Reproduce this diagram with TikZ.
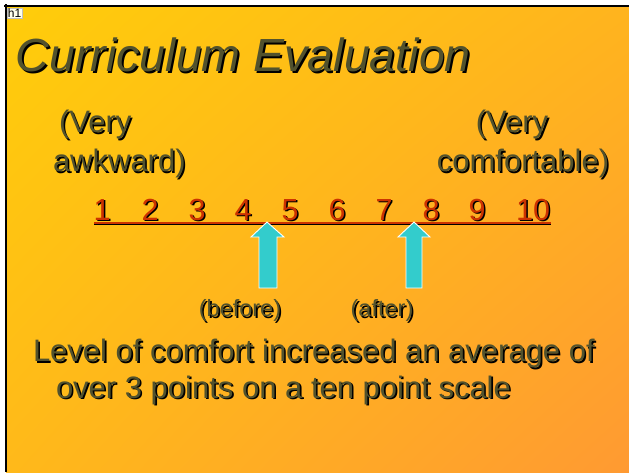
\documentclass[tikz,border=0pt]{standalone}
\usepackage{fontspec}
\setmainfont{Liberation Sans}
\usetikzlibrary{shadings}
\definecolor{bgA}{RGB}{255,205,10}
\definecolor{bgB}{RGB}{255,154,50}
\definecolor{bgM}{RGB}{255,180,30}
\definecolor{olive}{RGB}{82,82,45}
\definecolor{numred}{RGB}{204,51,0}
\definecolor{arrowcyan}{RGB}{51,204,204}
\newcommand\shadowed[1]{\makebox[0pt][l]{\hspace{1.6pt}\raisebox{-1.6pt}{\color{black}#1}}#1}
\begin{document}
\begin{tikzpicture}[x=1pt,y=-1pt,
  txt/.style={inner sep=0pt, outer sep=0pt, text=olive},
  titletxt/.style={txt, anchor=base west, font=\itshape\fontsize{46.5}{50}\selectfont},
  bigtxt/.style={txt, font=\fontsize{31}{36}\selectfont},
  smalltxt/.style={txt, anchor=base, font=\fontsize{23.5}{28}\selectfont},
  numtxt/.style={inner sep=0pt, outer sep=0pt, anchor=base, text=numred, font=\fontsize{30.5}{34}\selectfont},
  uparrow/.style={fill=arrowcyan, draw=white, line width=0.9pt, line join=miter}]
\useasboundingbox (0,0) rectangle (629,472);
\fill[white] (0,0) rectangle (629,472);
\shade[upper left=bgA, upper right=bgM, lower left=bgM!80!bgA, lower right=bgB] (6,6) rectangle (629,472);
\draw[black, line width=2.2pt] (4,6) -- (629,6);
\draw[black, line width=2.5pt] (6,4) -- (6,472);
\node[fill=white!92!yellow, draw=black!25, line width=0.4pt, inner sep=0.8pt, anchor=north west, font=\fontsize{12}{12}\selectfont] (h1) at (7,7.5) {h1};
% title
\node[titletxt] (title) at (16,71.7) {\shadowed{Curriculum Evaluation}};
% scale end labels
\node[bigtxt, anchor=base west] (vl) at (59,132.7) {\shadowed{(Very}};
\node[bigtxt, anchor=base west] (aw) at (53,171.7) {\shadowed{awkward)}};
\node[bigtxt, anchor=base] (vr) at (512,132.7) {\shadowed{(Very}};
\node[bigtxt, anchor=base] (cf) at (523,171.7) {\shadowed{comfortable)}};
% scale
\draw[black, line width=1.8pt] (94,224.2) -- (551,224.2);
\draw[numred, line width=1.8pt] (94,222.6) -- (551,222.6);
\foreach \n/\x in {1/102,2/150,3/197,4/243,5/290,6/337,7/384,8/431,9/477,10/533}{
  \node[numtxt] (n\n) at (\x,220) {\shadowed{\n}};
}
% arrows
\draw[uparrow] (267,222) -- (284,237) -- (277,237) -- (277,288) -- (259,288) -- (259,237) -- (251,237) -- cycle;
\draw[uparrow] (414,222) -- (430,237) -- (422,237) -- (422,288) -- (406,288) -- (406,237) -- (398,237) -- cycle;
\node[smalltxt] (bef) at (240,316.7) {\shadowed{(before)}};
\node[smalltxt] (aft) at (382,316.7) {\shadowed{(after)}};
% conclusion
\node[bigtxt, anchor=base west] (l1) at (33,361.7) {\shadowed{Level of comfort increased an average of}};
\node[bigtxt, anchor=base west] (l2) at (56,398) {\shadowed{over 3 points on a ten point scale}};
\end{tikzpicture}
\end{document}
